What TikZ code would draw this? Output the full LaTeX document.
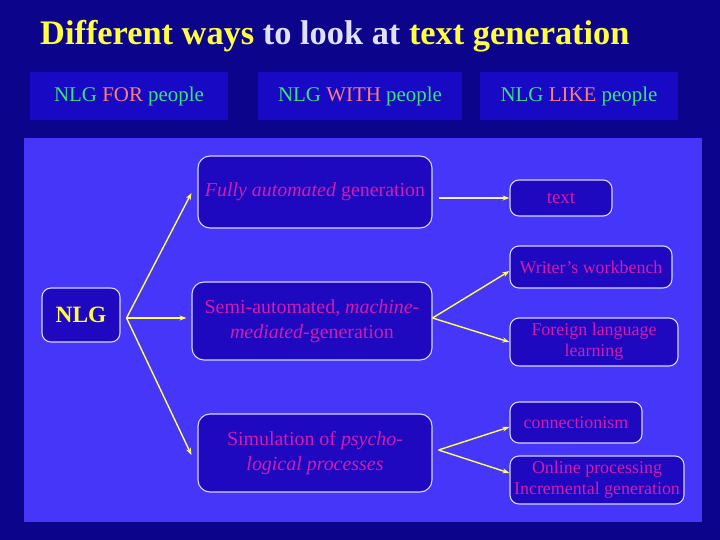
\documentclass[tikz,border=0pt]{standalone}
\usepackage{fontspec}
\setmainfont{Liberation Serif}
\usetikzlibrary{arrows.meta,calc}
\definecolor{bgdark}{RGB}{12,4,138}
\definecolor{hdr}{RGB}{24,10,196}
\definecolor{panel}{RGB}{70,54,250}
\definecolor{nodefill}{RGB}{30,8,192}
\definecolor{edgec}{RGB}{215,215,250}
\definecolor{ttlyellow}{RGB}{255,255,64}
\definecolor{ttllav}{RGB}{225,225,255}
\definecolor{hgreen}{RGB}{60,225,120}
\definecolor{hred}{RGB}{255,125,120}
\definecolor{mag}{RGB}{210,28,172}
\definecolor{arr}{RGB}{255,255,90}
\definecolor{arrline}{RGB}{240,240,200}
\tikzset{
  hdrbox/.style={fill=hdr, draw=none, minimum width=198bp, minimum height=48bp, inner sep=0pt,
    font=\fontsize{21}{23}\selectfont, text=hgreen},
  bigbox/.style={fill=nodefill, draw=edgec, line width=1.1bp, rounded corners=12bp,
    inner sep=0pt, align=center, text=mag, font=\fontsize{20}{25}\selectfont},
  smallbox/.style={fill=nodefill, draw=edgec, line width=1.1bp, rounded corners=9bp,
    inner sep=0pt, align=center, text=mag, font=\fontsize{18}{21}\selectfont},
  conn/.style={draw=arr, line width=1.4bp, -{Stealth[length=7bp,width=5bp]}},
  connw/.style={draw=arrline, line width=1.4bp, -{Stealth[length=7bp,width=5bp,color=arr,fill=arr]}}
}
\begin{document}
\begin{tikzpicture}[x=1bp,y=-1bp]
\useasboundingbox (0,0) rectangle (720,540);
\fill[bgdark] (0,0) rectangle (720,540);
% title
\node[anchor=base west, inner sep=0pt, font=\fontsize{34.5}{38}\selectfont\bfseries] (title) at (40,45)
  {\textcolor{ttlyellow}{Different ways} \textcolor{ttllav}{to look at} \textcolor{ttlyellow}{text generation}};
% header boxes
\node[hdrbox] (h1) at (129,96) {NLG \textcolor{hred}{FOR} people};
\node[hdrbox, minimum width=204bp] (h2) at (360,96) {NLG \textcolor{hred}{WITH} people};
\node[hdrbox] (h3) at (579,96) {NLG \textcolor{hred}{LIKE} people};
% panel
\fill[panel] (24,138) rectangle (702,522);
% nodes
\node[bigbox, rounded corners=9bp, minimum width=78bp, minimum height=54bp, text=ttlyellow,
  font=\fontsize{23.5}{25}\selectfont\bfseries] (nlg) at (81,315) {NLG};
\node[bigbox, minimum width=234bp, minimum height=72bp] (fully) at (315,192)
  {\textit{Fully automated} generation};
\node[bigbox, minimum width=240bp, minimum height=78bp] (semi) at (312,321)
  {Semi-automated, \textit{machine-}\\\textit{mediated}-generation};
\node[bigbox, minimum width=234bp, minimum height=78bp] (sim) at (315,453)
  {Simulation of \textit{psycho-}\\\textit{logical processes}};
\node[smallbox, minimum width=102bp, minimum height=36bp, font=\fontsize{19}{21}\selectfont] (text) at (561,198) {text};
\node[smallbox, minimum width=162bp, minimum height=42bp] (writer) at (591,267) {Writer’s workbench};
\node[smallbox, minimum width=168bp, minimum height=48bp] (foreign) at (594,342) {Foreign language\\learning};
\node[smallbox, minimum width=132bp, minimum height=41bp] (connect) at (576,422.5) {connectionism};
\node[smallbox, minimum width=174bp, minimum height=48bp] (online) at (597,480) {Online processing\\Incremental generation};
% connectors
\coordinate (nlgout) at ($(nlg.east)+(6,3)$);
\draw[conn] (nlgout) -- ($(fully.west)+(-6,1)$);
\draw[conn] (nlgout) -- ($(semi.west)+(-5,-3)$);
\draw[conn] (nlgout) -- ($(sim.west)+(-6,2)$);
\draw[connw] ($(fully.east)+(6,6)$) -- (text.west);
\coordinate (semiout) at ($(semi.east)+(0,-3)$);
\draw[conn] (semiout) -- ($(writer.west)+(0,4)$);
\draw[conn] (semiout) -- (foreign.west);
\coordinate (simout) at ($(sim.east)+(6,-3)$);
\draw[conn] (simout) -- ($(connect.west)+(0,4.5)$);
\draw[conn] (simout) -- ($(online.west)+(0,-7)$);
\end{tikzpicture}
\end{document}
